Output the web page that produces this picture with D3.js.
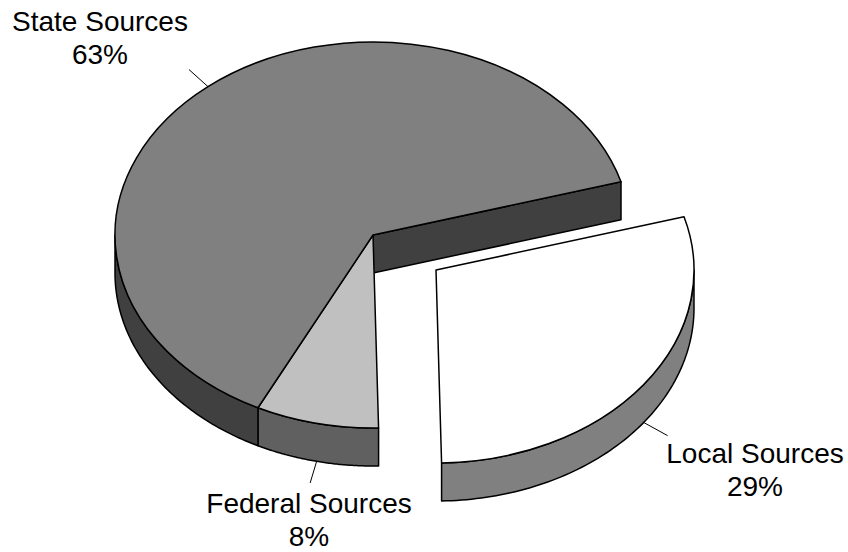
<!DOCTYPE html>
<html><head><meta charset="utf-8">
<style>html,body{margin:0;padding:0;background:#fff}svg{display:block}</style>
<script src="https://cdn.jsdelivr.net/npm/d3@7"></script></head>
<body><svg id="c" width="848" height="552"></svg>
<script>
const categories = ["Local Sources", "Federal Sources", "State Sources"];
const shares = [29.1, 7.7, 63.2];
const percentLabels = ["29%", "8%", "63%"];
const topColors = ["#ffffff", "#c0c0c0", "#808080"];
const wallColors = ["#808080", "#606060", "#404040"];

const W = 848, H = 552;
const rx = 258, ry = 193, depth = 38;
const mainCentre = [373, 235];
const explodedCentre = [436, 270];
const rad = d => d * Math.PI / 180;
const centres = [explodedCentre, mainCentre, mainCentre];
const labelAt = [[755, 463], [309, 513], [100, 31]];
const lineGap = 32.5;

const svg = d3.select("#c").attr("viewBox", `0 0 ${W} ${H}`);
const pie = d3.pie().sort(null).startAngle(rad(74)).endAngle(rad(74 + 360));
const arcs = pie(shares);

const px = (c, a, k = 1) => c[0] + rx * k * Math.sin(a);
const py = (c, a, k = 1) => c[1] - ry * k * Math.cos(a);

// walls
function wallPath(c, a0, a1) {
  const n = 80;
  const as = d3.range(n + 1).map(i => a0 + (a1 - a0) * i / n);
  const pts = as.map(a => [px(c, a), py(c, a)])
    .concat(as.slice().reverse().map(a => [px(c, a), py(c, a) + depth]));
  return d3.line().curve(d3.curveLinearClosed)(pts);
}
const lo = rad(90), hi = rad(270);
const wg = svg.append("g");
arcs.forEach((d, i) => {
  const c = centres[i];
  // visible part of the rim
  const segs = [];
  for (const off of [0, 2 * Math.PI]) {
    const a0 = Math.max(d.startAngle, lo + off), a1 = Math.min(d.endAngle, hi + off);
    if (a1 > a0) segs.push([a0, a1]);
  }
  segs.forEach(s => wg.append("path").attr("d", wallPath(c, s[0], s[1]))
    .attr("fill", wallColors[i]).attr("stroke", "#000").attr("stroke-width", 1.5)
    .attr("stroke-linejoin", "round"));
});
// cut face of the main body
const cutAngle = arcs[2].endAngle;
const cutPts = [mainCentre, [px(mainCentre, cutAngle), py(mainCentre, cutAngle)],
  [px(mainCentre, cutAngle), py(mainCentre, cutAngle) + depth], [mainCentre[0], mainCentre[1] + depth]];
wg.append("path").attr("d", d3.line().curve(d3.curveLinearClosed)(cutPts))
  .attr("fill", wallColors[2]).attr("stroke", "#000").attr("stroke-width", 1.5)
  .attr("stroke-linejoin", "round");

// tops
const R = 100;
const arc = d3.arc().innerRadius(0).outerRadius(R);
arcs.forEach((d, i) => {
  const c = centres[i];
  svg.append("g").attr("transform", `translate(${c[0]},${c[1]}) scale(${rx / R},${ry / R})`)
    .append("path").attr("d", arc(d)).attr("fill", topColors[i])
    .attr("stroke", "#000").attr("stroke-width", 1.5)
    .attr("stroke-linejoin", "round")
    .attr("vector-effect", "non-scaling-stroke");
});

// leaders and labels
arcs.forEach((d, i) => {
  const c = centres[i];
  const m = (d.startAngle + d.endAngle) / 2;
  const drop = Math.cos(m) < 0 ? depth : 0;
  svg.append("line")
    .attr("x1", px(c, m)).attr("y1", py(c, m) + drop)
    .attr("x2", px(c, m, 1.115)).attr("y2", py(c, m, 1.115) + drop)
    .attr("stroke", "#000").attr("stroke-width", 1);
  const t = svg.append("text").attr("text-anchor", "middle")
    .attr("font-family", "'Liberation Sans', Arial, sans-serif")
    .attr("font-size", 28).attr("fill", "#000");
  t.append("tspan").attr("x", labelAt[i][0]).attr("y", labelAt[i][1]).text(categories[i]);
  t.append("tspan").attr("x", labelAt[i][0]).attr("y", labelAt[i][1] + lineGap).text(percentLabels[i]);
});
</script></body></html>
